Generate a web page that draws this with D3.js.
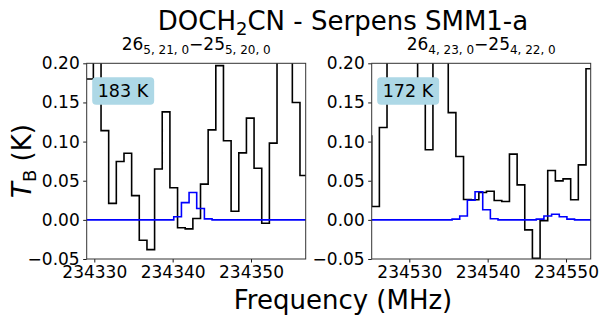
<!DOCTYPE html>
<html>
<head>
<meta charset="utf-8">
<script src="https://cdn.jsdelivr.net/npm/d3@7"></script>
<style>
  body { margin: 0; background: #fff; }
  text { font-family: "DejaVu Sans", sans-serif; }
</style>
</head>
<body>
<div id="chart"></div>
<script>
// observed spectrum, channel centres in MHz, T_B in K
const freqLeft = [234328.41, 234329.39, 234330.37, 234331.35, 234332.32, 234333.30, 234334.28, 234335.25,
  234336.23, 234337.21, 234338.18, 234339.16, 234340.14, 234341.11, 234342.09, 234343.07, 234344.04,
  234345.02, 234346.00, 234346.97, 234347.95, 234348.93, 234349.90, 234350.88, 234351.86, 234352.83,
  234353.81, 234354.79, 234355.76, 234356.74];
const tbLeft = [0.30, 0.180, 0.260, 0.114, 0.021, 0.0745, 0.085, 0.031, -0.026, -0.038, 0.065, 0.138,
  0.041, -0.010, -0.0115, 0.0017, 0.0456, 0.115, 0.197, 0.101, 0.011, 0.0856, 0.130, 0.066, -0.0043,
  0.098, 0.28, 0.25, 0.150, 0.0567];

const freqRight = [234524.71, 234525.69, 234526.67, 234527.64, 234528.62, 234529.60, 234530.57, 234531.55,
  234532.53, 234533.50, 234534.48, 234535.46, 234536.43, 234537.41, 234538.39, 234539.36, 234540.34,
  234541.32, 234542.29, 234543.27, 234544.25, 234545.22, 234546.20, 234547.18, 234548.15, 234549.13,
  234550.11, 234551.08, 234552.06, 234553.04];
const tbRight = [0.107, 0.017, 0.118, 0.26, 0.30, 0.28, 0.25, 0.165, 0.0895, 0.24, 0.22, 0.137, 0.081,
  0.026, 0.0256, 0.035, 0.0366, 0.0247, 0.0234, 0.084, 0.0447, -0.0128, -0.049, -0.001, 0.063, 0.0498,
  0.0524, 0.0256, 0.0703, 0.193];

// LTE model
const modelFreqLeft = [234329.03, 234339.65, 234340.63, 234341.61, 234342.58, 234343.56, 234344.54, 234345.52, 234356.98];
const modelLeft = [0, 0, 0.004, 0.022, 0.035, 0.0145, 0.0013, 0, 0];
const modelFreqRight = [234525.20, 234534.97, 234535.95, 234536.92, 234537.90, 234538.88, 234539.86, 234540.83,
  234541.81, 234545.72, 234546.69, 234547.67, 234548.65, 234549.63, 234550.60, 234551.58, 234553.15];
const modelRight = [0, 0, 0.001, 0.005, 0.025, 0.036, 0.013, 0.0015, 0, 0, 0.001, 0.005, 0.0072, 0.004, 0.001, 0, 0];

const yTicks = [-0.05, 0, 0.05, 0.10, 0.15, 0.20];
const xTicksLeft = [234330, 234340, 234350];
const xTicksRight = [234530, 234540, 234550];
const xRangeLeft = [234329.03, 234356.98];
const xRangeRight = [234525.20, 234553.15];
const temps = ["183 K", "172 K"];
const transitions = [
  [["26", "5, 21, 0"], ["25", "5, 20, 0"]],
  [["26", "4, 23, 0"], ["25", "4, 22, 0"]]
];

const width = 601;
const height = 316;
const plotTop = 63.3, plotBottom = 259;

const svg = d3.select('#chart').append('svg')
  .attr('width', width)
  .attr('height', height);

const y = d3.scaleLinear().domain([-0.05, 0.20]).range([plotBottom, plotTop]);

// turn channel centres into full-width bins
function stepPoints(fs, vs) {
  const pts = [];
  fs.forEach((f, i) => {
    const lo = i > 0 ? (fs[i - 1] + f) / 2 : f - (fs[1] - fs[0]) / 2;
    const hi = i < fs.length - 1 ? (f + fs[i + 1]) / 2 : f + (f - fs[i - 1]) / 2;
    pts.push([lo, vs[i]], [hi, vs[i]]);
  });
  return pts;
}

const panels = [
  { left: 86.7, right: 305.7, dom: xRangeLeft, ticks: xTicksLeft, f: freqLeft, tb: tbLeft,
    mf: modelFreqLeft, mv: modelLeft, temp: temps[0], tr: transitions[0] },
  { left: 371.7, right: 590.7, dom: xRangeRight, ticks: xTicksRight, f: freqRight, tb: tbRight,
    mf: modelFreqRight, mv: modelRight, temp: temps[1], tr: transitions[1] }
];

panels.forEach((p, i) => {
  const x = d3.scaleLinear().domain(p.dom).range([p.left, p.right]);
  const g = svg.append('g');

  g.append('clipPath').attr('id', 'clip' + i)
    .append('rect')
    .attr('x', p.left).attr('y', plotTop)
    .attr('width', p.right - p.left).attr('height', plotBottom - plotTop);

  const line = d3.line().x(d => x(d[0])).y(d => y(d[1]));

  const plot = g.append('g').attr('clip-path', `url(#clip${i})`);
  plot.append('path')
    .attr('d', line(stepPoints(p.f, p.tb)))
    .attr('fill', 'none')
    .attr('stroke', '#000')
    .attr('stroke-width', 1.6);
  plot.append('path')
    .attr('d', line(stepPoints(p.mf, p.mv)))
    .attr('fill', 'none')
    .attr('stroke', '#0000ff')
    .attr('stroke-width', 1.6);

  const axisY = d3.axisLeft(y).tickValues(yTicks).tickFormat(d3.format('.2f'))
    .tickSize(3.5).tickPadding(3.5);
  const gy = g.append('g')
    .attr('transform', `translate(${p.left},0)`)
    .call(axisY);
  const axisX = d3.axisBottom(x).tickValues(p.ticks).tickFormat(d3.format('d'))
    .tickSize(3.5).tickPadding(3.5);
  const gx = g.append('g')
    .attr('transform', `translate(0,${plotBottom})`)
    .call(axisX);
  [gx, gy].forEach(a => {
    a.select('.domain').remove();
    a.selectAll('text').attr('font-size', 17).attr('fill', '#000')
      .style('font-family', '"DejaVu Sans", sans-serif');
    a.selectAll('line').attr('stroke', '#000').attr('stroke-width', 0.9);
  });

  g.append('rect')
    .attr('x', p.left).attr('y', plotTop)
    .attr('width', p.right - p.left).attr('height', plotBottom - plotTop)
    .attr('fill', 'none')
    .attr('stroke', '#333')
    .attr('stroke-width', 1);

  // temperature label
  const lab = g.append('g');
  const box = lab.append('rect').attr('fill', '#add8e6').attr('rx', 4);
  const t = lab.append('text')
    .attr('x', p.left + 11)
    .attr('y', 96.7)
    .attr('font-size', 17.5)
    .text(p.temp);
  const bb = t.node().getBBox();
  box.attr('x', bb.x - 5.5).attr('y', 77.2)
    .attr('width', bb.width + 11).attr('height', 27.5);

  // transition title
  const title = g.append('text')
    .attr('x', (p.left + p.right) / 2)
    .attr('y', 50)
    .attr('text-anchor', 'middle')
    .attr('font-size', 17);
  title.append('tspan').text(p.tr[0][0]);
  title.append('tspan').attr('font-size', 12).attr('dy', 4).text(p.tr[0][1]);
  title.append('tspan').attr('dy', -4).text('\u2212');
  title.append('tspan').text(p.tr[1][0]);
  title.append('tspan').attr('font-size', 12).attr('dy', 4).text(p.tr[1][1]);
});

const sup = svg.append('text')
  .attr('x', 343)
  .attr('y', 30)
  .attr('text-anchor', 'middle')
  .attr('font-size', 26);
sup.append('tspan').text('DOCH');
sup.append('tspan').attr('font-size', 18).attr('dy', 5).text('2');
sup.append('tspan').attr('dy', -5).text('CN - Serpens SMM1-a');

svg.append('text')
  .attr('x', 343)
  .attr('y', 309)
  .attr('text-anchor', 'middle')
  .attr('font-size', 26)
  .text('Frequency (MHz)');

const ylab = svg.append('text')
  .attr('transform', 'translate(31,161) rotate(-90)')
  .attr('text-anchor', 'middle')
  .attr('font-size', 26);
ylab.append('tspan').attr('font-style', 'italic').text('T');
ylab.append('tspan').attr('font-size', 18).attr('dy', 5).text('B');
ylab.append('tspan').attr('dy', -5).text(' (K)');
</script>
</body>
</html>
